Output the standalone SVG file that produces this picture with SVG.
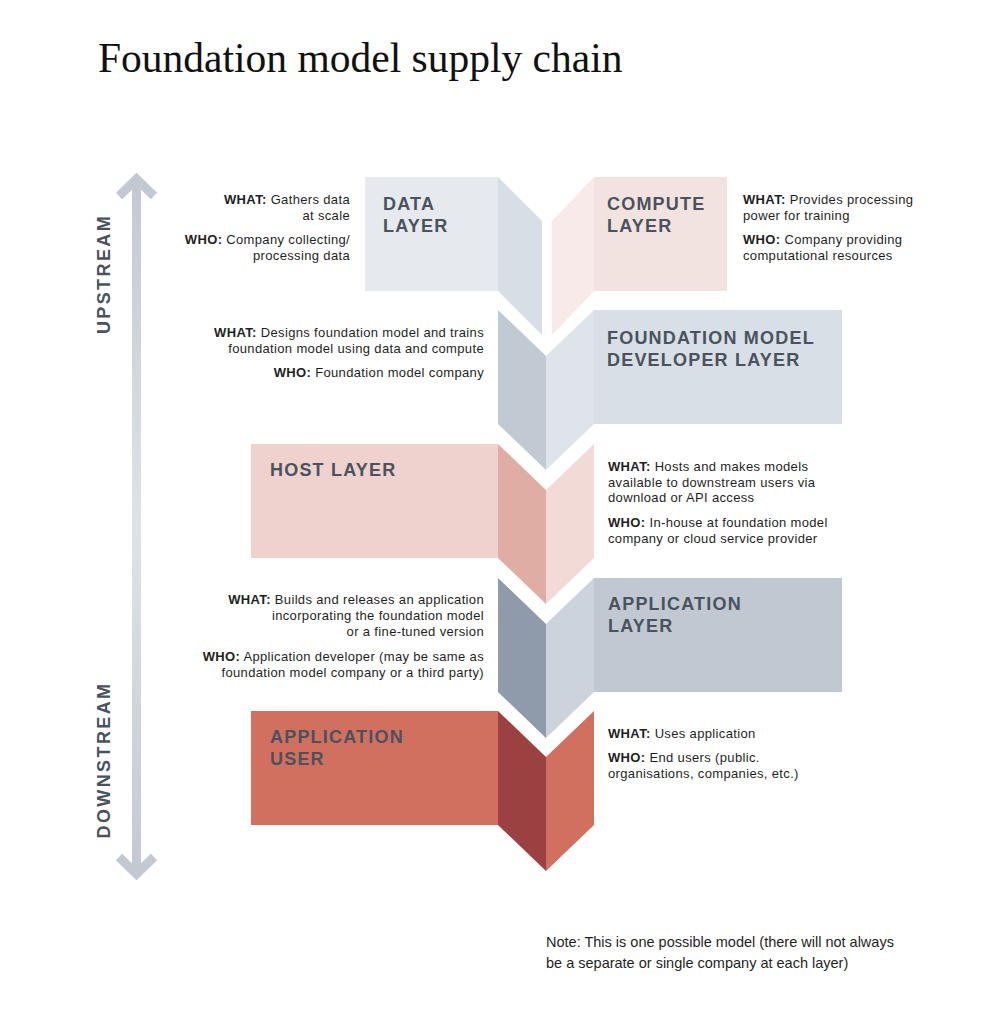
<svg xmlns="http://www.w3.org/2000/svg" width="1000" height="1028" viewBox="0 0 1000 1028">
<defs>
<style>
.title{font-family:"Liberation Serif","Times New Roman",serif;font-size:41.5px;fill:#111;}
.lbl{font-family:"Liberation Sans",Arial,sans-serif;font-weight:bold;font-size:18px;letter-spacing:1.2px;fill:#4a525e;}
.side{font-family:"Liberation Sans",Arial,sans-serif;font-weight:bold;font-size:18px;letter-spacing:2.4px;fill:#4a525e;}
.d{font-family:"Liberation Sans",Arial,sans-serif;font-size:13px;letter-spacing:0.35px;fill:#1f1f1f;}
.d tspan.b{font-weight:bold;}
.r{text-anchor:end;}
.note{font-family:"Liberation Sans",Arial,sans-serif;font-size:14.5px;fill:#1f1f1f;}
</style>
<linearGradient id="ag" gradientUnits="userSpaceOnUse" x1="0" y1="180" x2="0" y2="875">
<stop offset="0" stop-color="#c2c9d3"/>
<stop offset="0.5" stop-color="#dfe3e9"/>
<stop offset="1" stop-color="#c2c9d3"/>
</linearGradient>
</defs>
<rect width="1000" height="1028" fill="#ffffff"/>
<text class="title" x="98" y="72">Foundation model supply chain</text>

<g id="connectors">
<rect x="132" y="182" width="9" height="690" fill="url(#ag)"/>
<polyline points="119,196 136.5,179 154,196" fill="none" stroke="#c2c9d3" stroke-width="9"/>
<polyline points="119,857 136.5,874 154,857" fill="none" stroke="#c2c9d3" stroke-width="9"/>
</g>

<g id="upstream"><text class="side" transform="translate(110,274) rotate(-90)" text-anchor="middle">UPSTREAM</text></g>
<g id="downstream"><text class="side" transform="translate(110,760) rotate(-90)" text-anchor="middle">DOWNSTREAM</text></g>

<g id="data-layer">
<rect x="365" y="177" width="133" height="114" fill="#e6e9ee"/>
<polygon points="498,177 542,221 542,335 498,291" fill="#d8dee6"/>
<text class="lbl" x="383" y="210">DATA</text>
<text class="lbl" x="383" y="232">LAYER</text>
<text class="d r" x="350" y="204"><tspan class="b">WHAT:</tspan> Gathers data</text>
<text class="d r" x="350" y="220">at scale</text>
<text class="d r" x="350" y="244"><tspan class="b">WHO:</tspan> Company collecting/</text>
<text class="d r" x="350" y="260">processing data</text>
</g>

<g id="compute-layer">
<rect x="594" y="177" width="133" height="114" fill="#f3e3e0"/>
<polygon points="552,221 594,177 594,291 552,335" fill="#f7eae8"/>
<text class="lbl" x="607" y="210">COMPUTE</text>
<text class="lbl" x="607" y="232">LAYER</text>
<text class="d" x="743" y="204"><tspan class="b">WHAT:</tspan> Provides processing</text>
<text class="d" x="743" y="220">power for training</text>
<text class="d" x="743" y="244"><tspan class="b">WHO:</tspan> Company providing</text>
<text class="d" x="743" y="260">computational resources</text>
</g>

<g id="foundation-model-developer-layer">
<rect x="594" y="310" width="248" height="114" fill="#d9dfe7"/>
<polygon points="498,310 546,356 546,470 498,424" fill="#c1c9d3"/>
<polygon points="546,356 594,310 594,424 546,470" fill="#dfe3ea"/>
<text class="lbl" x="607" y="344">FOUNDATION MODEL</text>
<text class="lbl" x="607" y="366">DEVELOPER LAYER</text>
<text class="d r" x="484" y="337"><tspan class="b">WHAT:</tspan> Designs foundation model and trains</text>
<text class="d r" x="484" y="353">foundation model using data and compute</text>
<text class="d r" x="484" y="377"><tspan class="b">WHO:</tspan> Foundation model company</text>
</g>

<g id="host-layer">
<rect x="251" y="444" width="247" height="114" fill="#efd2ce"/>
<polygon points="498,444 546,490 546,604 498,558" fill="#e0ada5"/>
<polygon points="546,490 594,444 594,558 546,604" fill="#f2dbd7"/>
<text class="lbl" x="270" y="476">HOST LAYER</text>
<text class="d" x="608" y="471"><tspan class="b">WHAT:</tspan> Hosts and makes models</text>
<text class="d" x="608" y="487">available to downstream users via</text>
<text class="d" x="608" y="502">download or API access</text>
<text class="d" x="608" y="527"><tspan class="b">WHO:</tspan> In-house at foundation model</text>
<text class="d" x="608" y="543">company or cloud service provider</text>
</g>

<g id="application-layer">
<rect x="594" y="578" width="248" height="114" fill="#c1c8d2"/>
<polygon points="498,578 546,624 546,738 498,692" fill="#8f9bab"/>
<polygon points="546,624 594,578 594,692 546,738" fill="#ccd3dd"/>
<text class="lbl" x="608" y="610">APPLICATION</text>
<text class="lbl" x="608" y="632">LAYER</text>
<text class="d r" x="484" y="604"><tspan class="b">WHAT:</tspan> Builds and releases an application</text>
<text class="d r" x="484" y="620">incorporating the foundation model</text>
<text class="d r" x="484" y="636">or a fine-tuned version</text>
<text class="d r" x="484" y="661"><tspan class="b">WHO:</tspan> Application developer (may be same as</text>
<text class="d r" x="484" y="677">foundation model company or a third party)</text>
</g>

<g id="application-user">
<rect x="251" y="711" width="247" height="114" fill="#d27060"/>
<polygon points="498,711 546,757 546,871 498,825" fill="#9b4141"/>
<polygon points="546,757 594,711 594,825 546,871" fill="#d27060"/>
<text class="lbl" x="270" y="743">APPLICATION</text>
<text class="lbl" x="270" y="765">USER</text>
<text class="d" x="608" y="738"><tspan class="b">WHAT:</tspan> Uses application</text>
<text class="d" x="608" y="762"><tspan class="b">WHO:</tspan> End users (public.</text>
<text class="d" x="608" y="778">organisations, companies, etc.)</text>
</g>

<g id="note">
<text class="note" x="546" y="947">Note: This is one possible model (there will not always</text>
<text class="note" x="546" y="968">be a separate or single company at each layer)</text>
</g>
</svg>
